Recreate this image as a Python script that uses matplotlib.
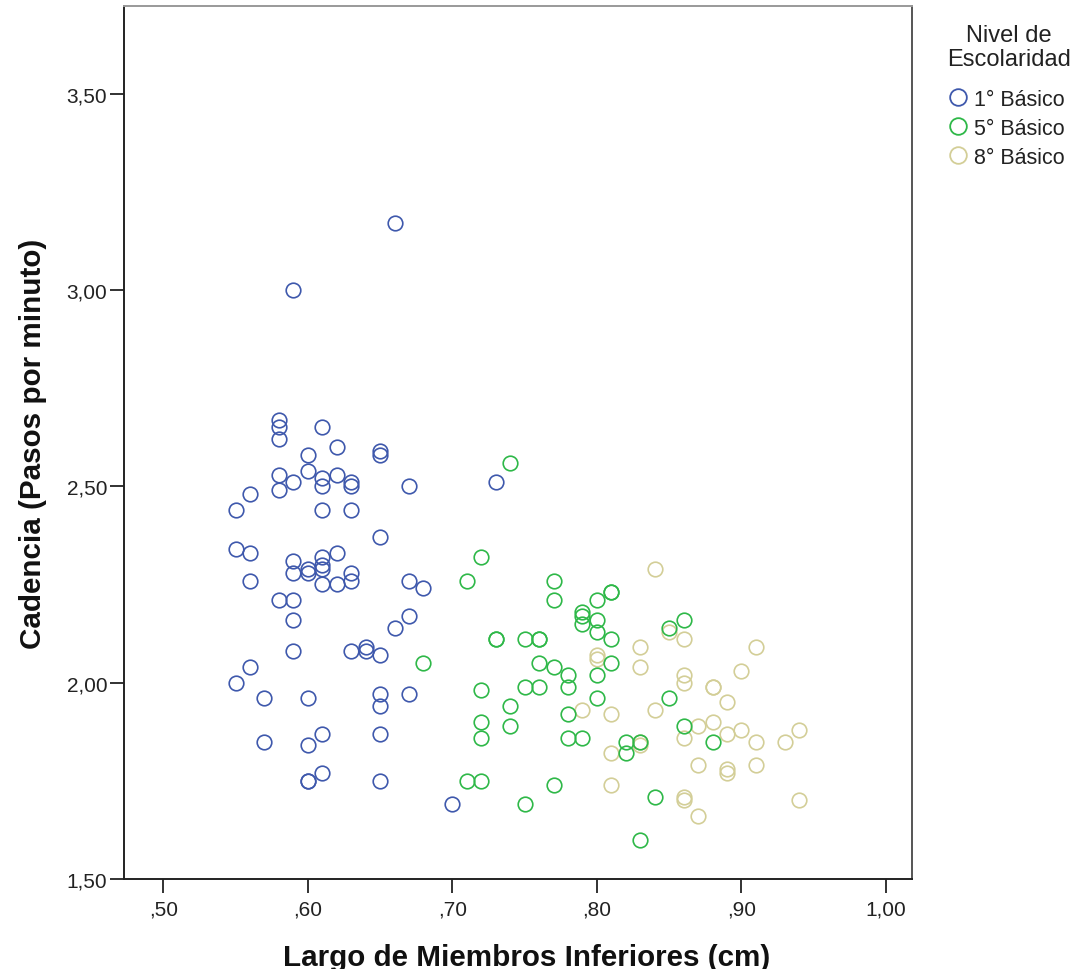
import matplotlib
matplotlib.use("Agg")
import matplotlib.pyplot as plt
from matplotlib.lines import Line2D

plt.rcParams['font.family'] = ['Liberation Sans', 'DejaVu Sans']

# ---- data ----
basico1_x = [0.66, 0.59, 0.58, 0.58, 0.58, 0.61, 0.62, 0.60, 0.65, 0.65,
             0.58, 0.60, 0.59, 0.61, 0.61, 0.62, 0.63, 0.63, 0.67, 0.56, 0.58,
             0.55, 0.61, 0.63, 0.65, 0.55, 0.56, 0.59, 0.61, 0.62, 0.61, 0.61,
             0.60, 0.60, 0.59, 0.63, 0.63, 0.56, 0.61, 0.62, 0.67, 0.68,
             0.58, 0.59, 0.67, 0.59, 0.66, 0.59, 0.63, 0.64, 0.64, 0.65,
             0.56, 0.55, 0.57, 0.60, 0.65, 0.65, 0.67, 0.57, 0.60, 0.61, 0.65,
             0.60, 0.60, 0.61, 0.65, 0.70, 0.73]
basico1_y = [3.17, 3.00, 2.67, 2.65, 2.62, 2.65, 2.60, 2.58, 2.59, 2.58,
             2.53, 2.54, 2.51, 2.52, 2.50, 2.53, 2.51, 2.50, 2.50, 2.48, 2.49,
             2.44, 2.44, 2.44, 2.37, 2.34, 2.33, 2.31, 2.32, 2.33, 2.30, 2.29,
             2.29, 2.28, 2.28, 2.28, 2.26, 2.26, 2.25, 2.25, 2.26, 2.24,
             2.21, 2.21, 2.17, 2.16, 2.14, 2.08, 2.08, 2.09, 2.08, 2.07,
             2.04, 2.00, 1.96, 1.96, 1.97, 1.94, 1.97, 1.85, 1.84, 1.87, 1.87,
             1.75, 1.75, 1.77, 1.75, 1.69, 2.51]

basico5_x = [0.74, 0.68, 0.72, 0.71, 0.77, 0.77, 0.73, 0.73, 0.75, 0.76, 0.76,
             0.79, 0.79, 0.79, 0.80, 0.81, 0.81, 0.80, 0.80, 0.81, 0.76, 0.77,
             0.78, 0.81, 0.80, 0.72, 0.75, 0.76, 0.78, 0.80, 0.74, 0.72, 0.74,
             0.72, 0.78, 0.78, 0.79, 0.71, 0.72, 0.77, 0.75, 0.82, 0.82, 0.83,
             0.84, 0.83, 0.85, 0.85, 0.86, 0.86, 0.88]
basico5_y = [2.56, 2.05, 2.32, 2.26, 2.26, 2.21, 2.11, 2.11, 2.11, 2.11, 2.11,
             2.18, 2.17, 2.15, 2.21, 2.23, 2.23, 2.16, 2.13, 2.11, 2.05, 2.04,
             2.02, 2.05, 2.02, 1.98, 1.99, 1.99, 1.99, 1.96, 1.94, 1.90, 1.89,
             1.86, 1.92, 1.86, 1.86, 1.75, 1.75, 1.74, 1.69, 1.85, 1.82, 1.85,
             1.71, 1.60, 1.96, 2.14, 2.16, 1.89, 1.85]

basico8_x = [0.84, 0.83, 0.85, 0.86, 0.80, 0.80, 0.83, 0.86, 0.86, 0.88, 0.88,
             0.90, 0.91, 0.89, 0.81, 0.79, 0.84, 0.87, 0.88, 0.90, 0.89, 0.86,
             0.83, 0.83, 0.91, 0.93, 0.94, 0.81, 0.87, 0.89, 0.89, 0.91, 0.81,
             0.86, 0.86, 0.87, 0.94]
basico8_y = [2.29, 2.09, 2.13, 2.11, 2.07, 2.06, 2.04, 2.02, 2.00, 1.99, 1.99,
             2.03, 2.09, 1.95, 1.92, 1.93, 1.93, 1.89, 1.90, 1.88, 1.87, 1.86,
             1.84, 1.85, 1.85, 1.85, 1.88, 1.82, 1.79, 1.78, 1.77, 1.79, 1.74,
             1.71, 1.70, 1.66, 1.70]

legend_title = "Nivel de\nEscolaridad"
group_labels = ["1° Básico", "5° Básico", "8° Básico"]
group_colors = ["#3E58AC", "#2EB848", "#D3CE97"]

x_ticks = [0.50, 0.60, 0.70, 0.80, 0.90, 1.00]
x_tick_labels = [",50", ",60", ",70", ",80", ",90", "1,00"]
y_ticks = [1.50, 2.00, 2.50, 3.00, 3.50]
y_tick_labels = ["1,50", "2,00", "2,50", "3,00", "3,50"]

# ---- figure ----
W, H = 1089, 970
fig = plt.figure(figsize=(W / 100, H / 100), dpi=100)
ax = fig.add_axes([124 / W, 1 - 880 / H, (912 - 124) / W, (880 - 7) / H])

series = [(basico1_x, basico1_y), (basico5_x, basico5_y), (basico8_x, basico8_y)]
zorders = [4, 4, 3]
for (xs, ys), col, lab, z in zip(series, group_colors, group_labels, zorders):
    ax.plot(xs, ys, linestyle='none', marker='o', markersize=10.5,
            markerfacecolor='none', markeredgecolor=col, markeredgewidth=1.2,
            label=lab, zorder=z, clip_on=False)

ax.set_xlim(0.4728, 1.018)
ax.set_ylim(1.50, 3.723)
ax.set_xticks(x_ticks)
ax.set_xticklabels(x_tick_labels)
ax.set_yticks(y_ticks)
ax.set_yticklabels(y_tick_labels)
ax.tick_params(axis='both', direction='out', length=10, width=1.3,
               color='#222222', labelsize=15, labelcolor='#222222')
ax.tick_params(axis='x', pad=5)
ax.tick_params(axis='y', pad=2)

for s in ['left', 'bottom']:
    ax.spines[s].set_color('#222222')
    ax.spines[s].set_linewidth(1.4)
ax.spines['right'].set_color('#555555')
ax.spines['right'].set_linewidth(1.4)
ax.spines['top'].set_color('#999999')
ax.spines['top'].set_linewidth(1.4)

ax.set_xlabel("Largo de Miembros Inferiores (cm)", fontsize=21.3, fontweight='bold',
              color='#111111')
ax.xaxis.set_label_coords(0.511, -0.073)
ax.xaxis.label.set_va('top')
ax.set_ylabel("Cadencia (Pasos por minuto)", fontsize=21.3, fontweight='bold',
              labelpad=14, color='#111111')

# legend title and entries
fig.text(1009 / W, 1 - 25 / H, legend_title, ha='center', va='top',
         multialignment='center', fontsize=17, linespacing=1.13, color='#222222')

handles = [Line2D([], [], linestyle='none', marker='o', markersize=12,
                  markerfacecolor='none', markeredgecolor=c, markeredgewidth=1.3)
           for c in group_colors]
leg = fig.legend(handles, group_labels,
                 loc='upper left', bbox_to_anchor=(949.5 / W, 1 - 90 / H),
                 frameon=False, fontsize=15.5,
                 handlelength=0.8, handletextpad=0.35, labelspacing=0.36,
                 borderaxespad=0, borderpad=0)
for t in leg.get_texts():
    t.set_color('#222222')

fig.savefig("out.png", dpi=100)
